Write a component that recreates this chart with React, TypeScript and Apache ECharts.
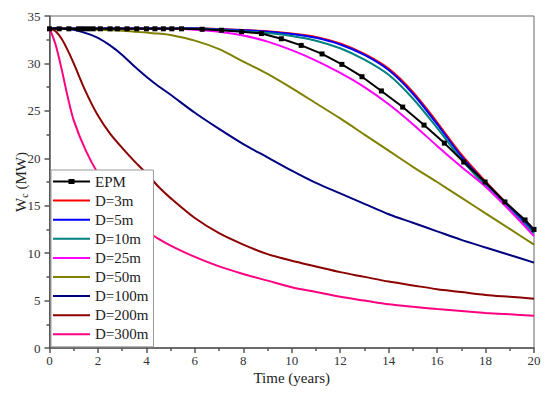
import React, { useEffect, useRef } from "react";
import * as echarts from "echarts";

const T = [0, 0.25, 0.5, 0.75, 1, 1.5, 2, 2.5, 3, 3.5, 4, 4.5, 5, 6, 7, 8, 9, 10, 11, 12, 13, 14, 15, 16, 17, 18, 19, 20];

const D3 = [33.7, 33.7, 33.7, 33.7, 33.7, 33.7, 33.7, 33.7, 33.7, 33.7, 33.7, 33.7, 33.7, 33.7, 33.62, 33.52, 33.4, 33.15, 32.8, 32.1, 31.0, 29.45, 27.0, 23.8, 20.4, 17.55, 14.9, 12.35];
const D5 = [33.7, 33.7, 33.7, 33.7, 33.7, 33.7, 33.7, 33.7, 33.7, 33.7, 33.7, 33.7, 33.7, 33.7, 33.6, 33.5, 33.35, 33.1, 32.7, 32.0, 30.9, 29.3, 26.8, 23.6, 20.2, 17.4, 14.8, 12.3];
const D10 = [33.7, 33.68, 33.68, 33.68, 33.68, 33.68, 33.68, 33.68, 33.68, 33.68, 33.68, 33.68, 33.68, 33.66, 33.55, 33.4, 33.2, 32.9, 32.4, 31.6, 30.4, 28.8, 26.3, 23.2, 19.9, 17.1, 14.6, 12.1];
const D25 = [33.7, 33.65, 33.65, 33.65, 33.65, 33.65, 33.65, 33.65, 33.65, 33.65, 33.65, 33.65, 33.65, 33.55, 33.35, 32.95, 32.3, 31.4, 30.3, 29.0, 27.5, 25.7, 23.6, 21.3, 19.1, 17.0, 14.5, 11.8];
const D50 = [33.7, 33.65, 33.65, 33.65, 33.65, 33.6, 33.55, 33.5, 33.45, 33.35, 33.25, 33.15, 33.0, 32.4, 31.5, 30.2, 28.9, 27.4, 25.8, 24.2, 22.5, 20.8, 19.1, 17.5, 15.85, 14.2, 12.55, 10.9];
const D100 = [33.7, 33.7, 33.68, 33.62, 33.55, 33.2, 32.7, 31.9, 30.9, 29.7, 28.6, 27.6, 26.7, 24.8, 23.1, 21.5, 20.1, 18.7, 17.4, 16.3, 15.2, 14.1, 13.2, 12.3, 11.4, 10.6, 9.8, 9.0];
const D200 = [33.7, 33.4, 32.6, 31.4, 30.0, 27.0, 24.5, 22.6, 21.1, 19.7, 18.4, 17.0, 15.8, 13.7, 12.1, 10.9, 9.9, 9.2, 8.6, 8.0, 7.5, 7.0, 6.6, 6.2, 5.9, 5.6, 5.4, 5.2];
const D300 = [33.7, 32.0, 29.4, 26.5, 24.0, 20.8, 18.4, 16.6, 15.1, 13.8, 12.4, 11.5, 10.8, 9.6, 8.6, 7.8, 7.1, 6.4, 5.9, 5.4, 5.0, 4.6, 4.35, 4.1, 3.9, 3.7, 3.55, 3.4];

const T_EPM = [0, 0.4, 0.8, 1.2, 1.4, 1.6, 1.8, 2.1, 2.5, 2.8, 3.2, 3.6, 4.0, 4.35, 4.7, 5.05, 5.45, 6.3, 7.1, 7.93, 8.75, 9.57, 10.39, 11.25, 12.07, 12.9, 13.7, 14.58, 15.46, 16.3, 17.1, 17.98, 18.8, 19.63, 20];
const EPM = [33.65, 33.65, 33.65, 33.65, 33.65, 33.65, 33.65, 33.65, 33.65, 33.65, 33.65, 33.65, 33.65, 33.65, 33.65, 33.65, 33.65, 33.6, 33.5, 33.35, 33.15, 32.6, 31.9, 31.0, 29.9, 28.6, 27.1, 25.4, 23.5, 21.6, 19.6, 17.5, 15.4, 13.5, 12.5];

const SERIES_NAMES = ["D=3m", "D=5m", "D=10m", "D=25m", "D=50m", "D=100m", "D=200m", "D=300m"];
const SERIES_VALUES = [D3, D5, D10, D25, D50, D100, D200, D300];
const SERIES_COLORS = ["#FF0000", "#0000FF", "#008080", "#FF00FF", "#808000", "#000080", "#8B0000", "#FF0080"];

const FONT = "Times New Roman";

const LINE_ICON = "path://M0,0L0.01,0L0.01,0.01L0,0.01Z M0,6L37,6L37,8L0,8Z M36.99,13.99L37,13.99L37,14L36.99,14Z";
const EPM_ICON = "path://M0,0L0.01,0L0.01,0.01L0,0.01Z M0,6L37,6L37,8L0,8Z M15.5,4.5L21.5,4.5L21.5,9.5L15.5,9.5Z M36.99,13.99L37,13.99L37,14L36.99,14Z";

export default function App() {
  const ref = useRef<HTMLDivElement>(null);
  useEffect(() => {
    if (!ref.current) return;
    const chart = echarts.init(ref.current, null, { renderer: "svg" });
    const series: any[] = [
      {
        name: "EPM",
        type: "line",
        data: T_EPM.map((t, i) => [t, EPM[i]]),
        symbol: "rect",
        symbolSize: 5,
        showSymbol: true,
        lineStyle: { color: "#000", width: 2 },
        itemStyle: { color: "#000" },
        z: 3,
      },
      ...SERIES_NAMES.map((n, k) => ({
        name: n,
        type: "line",
        data: T.map((t, i) => [t, SERIES_VALUES[k][i]]),
        symbol: "none",
        smooth: 0.3,
        lineStyle: { color: SERIES_COLORS[k], width: 2 },
        itemStyle: { color: SERIES_COLORS[k] },
        z: 2,
      })),
    ];
    chart.setOption({
      animation: false,
      backgroundColor: "#fff",
      textStyle: { fontFamily: FONT },
      grid: {
        left: 49.5,
        right: 16,
        top: 16,
        bottom: 48,
        containLabel: false,
        outerBoundsMode: "none",
        show: true,
        borderColor: "#666",
        borderWidth: 1,
        backgroundColor: "transparent",
      },
      xAxis: {
        type: "value",
        min: 0,
        max: 20,
        interval: 2,
        name: "Time (years)",
        nameLocation: "middle",
        nameGap: 22,
        nameMoveOverlap: false,
        nameTextStyle: { fontFamily: FONT, fontSize: 15, color: "#222", fontWeight: "normal" },
        axisLine: { show: true, lineStyle: { color: "#555", width: 1.5 } },
        axisTick: { show: true, length: 5, lineStyle: { color: "#555", width: 1.5 } },
        minorTick: { show: true, splitNumber: 2, length: 3, lineStyle: { color: "#555", width: 1.5 } },
        splitLine: { show: false },
        axisLabel: { fontFamily: FONT, fontSize: 13, color: "#333", margin: 6 },
      },
      yAxis: {
        type: "value",
        min: 0,
        max: 35,
        interval: 5,
        name: "{w|W}{s|c}{w| (MW)}",
        nameLocation: "middle",
        nameGap: 20,
        nameMoveOverlap: false,
        nameTextStyle: {
          fontFamily: FONT,
          fontSize: 15,
          color: "#222",
          fontWeight: "normal",
          rich: {
            w: { fontFamily: FONT, fontSize: 15, color: "#222", verticalAlign: "top", lineHeight: 16 },
            s: { fontFamily: FONT, fontSize: 10, color: "#222", verticalAlign: "bottom", lineHeight: 10, padding: [9, 0, 0, 0] },
          },
        },
        axisLine: { show: true, lineStyle: { color: "#555", width: 1.5 } },
        axisTick: { show: true, length: 5, lineStyle: { color: "#555", width: 1.5 } },
        minorTick: { show: true, splitNumber: 2, length: 3, lineStyle: { color: "#555", width: 1.5 } },
        splitLine: { show: false },
        axisLabel: { fontFamily: FONT, fontSize: 13, color: "#333", margin: 9 },
      },
      legend: {
        left: 51,
        top: 170,
        orient: "vertical",
        backgroundColor: "#fff",
        borderColor: "#999",
        borderWidth: 1,
        borderRadius: 0,
        padding: [4, 5, 5, 2],
        itemWidth: 37,
        itemHeight: 14,
        itemGap: 4.1,
        itemStyle: { borderWidth: 0 },
        textStyle: { fontFamily: FONT, fontSize: 15, color: "#222", lineHeight: 14 },
        data: [{ name: "EPM", icon: EPM_ICON }, ...SERIES_NAMES.map((n) => ({ name: n, icon: LINE_ICON }))],
        z: 10,
      },
      series,
    });
    return () => chart.dispose();
  }, []);
  return <div ref={ref} style={{ position: "absolute", left: 0, top: 0, width: 550, height: 396 }} />;
}
